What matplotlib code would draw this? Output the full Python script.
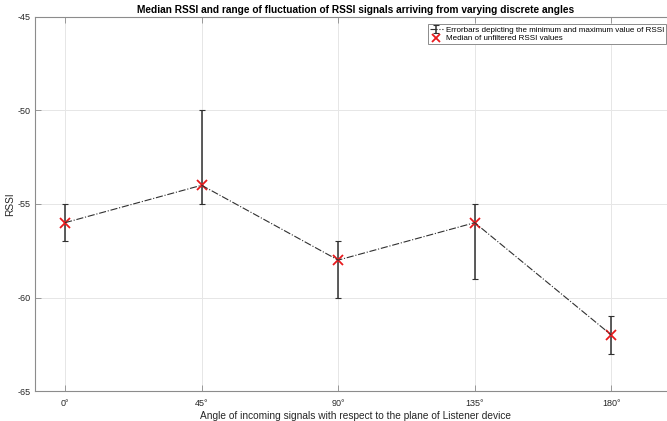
import matplotlib.pyplot as plt
import numpy as np

plt.rcParams['font.family'] = ['Liberation Sans', 'DejaVu Sans']
plt.rcParams['axes.unicode_minus'] = False

# Data
angles = [0, 45, 90, 135, 180]
angle_labels = ['0°', '45°', '90°', '135°', '180°']
rssi_median = [-56, -54, -58, -56, -62]
rssi_min = [-57, -55, -60, -59, -63]
rssi_max = [-55, -50, -57, -55, -61]

med = np.array(rssi_median)
yerr = [med - np.array(rssi_min), np.array(rssi_max) - med]

fig = plt.figure(figsize=(6.67, 4.21), dpi=100)
ax = fig.add_axes([0.0525, 0.071, 0.96, 0.889])

eb = ax.errorbar(angles, rssi_median, yerr=yerr, color='#303030', linestyle='-.',
                 linewidth=0.8, elinewidth=1.1, capsize=2, capthick=0.8,
                 label='Errorbars depicting the minimum and maximum value of RSSI')
sc, = ax.plot(angles, rssi_median, 'x', color='#e8191c', markersize=7,
              markeredgewidth=1.3, label='Median of unfiltered RSSI values')

ax.set_xlim(-9.9, 201.1)
ax.set_ylim(-65, -45)
ax.set_xticks(angles)
ax.set_xticklabels(angle_labels)
ax.set_yticks([-65, -60, -55, -50, -45])

ax.grid(True, color='#e6e6e6', linewidth=0.7)
ax.set_axisbelow(True)
for s in ax.spines.values():
    s.set_color('#8c8c8c')
    s.set_linewidth(0.8)
ax.tick_params(direction='in', length=4, width=0.6, color='#8c8c8c',
               labelsize=6.5, labelcolor='#262626', top=True)
ax.tick_params(axis='x', pad=6)
ax.tick_params(axis='y', pad=3)

ax.set_title('Median RSSI and range of fluctuation of RSSI signals arriving from varying discrete angles',
             fontsize=7.3, fontweight='bold', pad=3)
ax.set_xlabel('Angle of incoming signals with respect to the plane of Listener device',
              fontsize=7.3, color='#262626', labelpad=1.5)
ax.set_ylabel('RSSI', fontsize=7.3, color='#262626', labelpad=2)

leg = ax.legend(handles=[eb, sc], loc='upper right', fontsize=5.8, fancybox=False,
                framealpha=1, edgecolor='#8c8c8c', borderaxespad=0.0,
                bbox_to_anchor=(0.986, 0.981), handlelength=1.6, handletextpad=0.4,
                borderpad=0.25, labelspacing=0.15, markerscale=0.8)
leg.get_frame().set_linewidth(0.7)

fig.savefig('out.png', dpi=100)
